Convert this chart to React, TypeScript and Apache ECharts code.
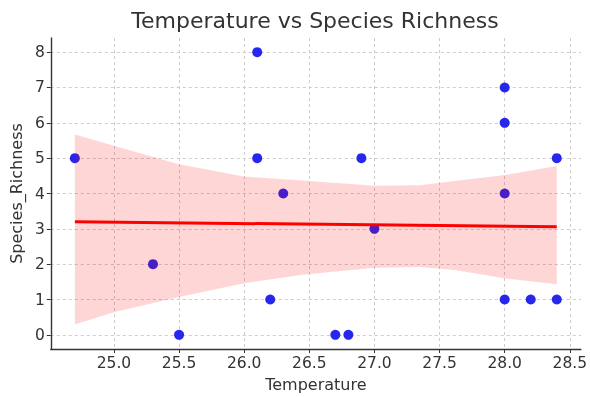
import React, { useEffect, useRef } from 'react';
import * as echarts from 'echarts';

const temperature = [24.7, 25.3, 25.5, 26.1, 26.1, 26.2, 26.3, 26.7, 26.8, 26.9, 27.0, 28.0, 28.0, 28.0, 28.0, 28.2, 28.4, 28.4];
const richness = [5, 2, 0, 8, 5, 1, 4, 0, 0, 5, 3, 7, 6, 4, 1, 1, 5, 1];

const fitX = [24.7, 28.4];
const fitY = [3.2, 3.06];

const bandX = [24.7, 25.0, 25.5, 26.0, 26.45, 27.0, 27.35, 27.6, 28.0, 28.4];
const bandUpper = [5.67, 5.35, 4.83, 4.48, 4.37, 4.22, 4.23, 4.35, 4.52, 4.78];
const bandLower = [0.29, 0.64, 1.07, 1.46, 1.7, 1.9, 1.92, 1.84, 1.6, 1.43];

const xTicks = [25.0, 25.5, 26.0, 26.5, 27.0, 27.5, 28.0, 28.5];
const yTicks = [0, 1, 2, 3, 4, 5, 6, 7, 8];

const FONT = 'DejaVu Sans';
const TEXT = '#333333';

export default function App() {
  const ref = useRef<HTMLDivElement>(null);
  useEffect(() => {
    if (!ref.current) return;
    const chart = echarts.init(ref.current, undefined, { renderer: 'svg' });
    const axisCommon = {
      type: 'value' as const,
      axisLine: { show: true, onZero: false, lineStyle: { color: '#333', width: 1.4 } },
      splitLine: { show: true, lineStyle: { color: '#cccccc', width: 1, type: [3, 3] } },
      nameTextStyle: { fontFamily: FONT, fontSize: 16, color: TEXT },
    };
    chart.setOption({
      animation: false,
      textStyle: { fontFamily: FONT },
      grid: { left: 48, right: 8, top: 38, bottom: 46, containLabel: false },
      graphic: [
        {
          type: 'text',
          x: 315,
          y: 9,
          style: {
            text: 'Temperature vs Species Richness',
            fontSize: 22,
            fontFamily: FONT,
            fill: TEXT,
            align: 'center',
            verticalAlign: 'top',
          },
        },
      ],
      xAxis: {
        ...axisCommon,
        min: 24.515,
        max: 28.585,
        name: 'Temperature',
        nameLocation: 'middle',
        nameGap: 27,
        axisTick: { show: true, length: 4, inside: false, customValues: xTicks, lineStyle: { color: '#333' } },
        axisLabel: {
          customValues: xTicks,
          formatter: (v: number) => v.toFixed(1),
          fontSize: 15.5,
          color: TEXT,
          margin: 6,
          fontFamily: FONT,
        },
      },
      yAxis: {
        ...axisCommon,
        min: -0.4,
        max: 8.4,
        name: 'Species_Richness',
        nameLocation: 'middle',
        nameGap: 24,
        nameRotate: 90,
        axisTick: { show: true, length: 4, inside: false, customValues: yTicks, lineStyle: { color: '#333' } },
        axisLabel: {
          customValues: yTicks,
          formatter: (v: number) => String(v),
          fontSize: 15.5,
          color: TEXT,
          margin: 6,
          fontFamily: FONT,
        },
      },
      series: [
        {
          type: 'scatter',
          data: temperature.map((x, i) => [x, richness[i]]),
          symbolSize: 10,
          itemStyle: { color: '#2626ee', opacity: 1 },
          z: 1,
        },
        {
          type: 'custom',
          silent: true,
          z: 2,
          data: [[bandX[0], bandUpper[0]]],
          renderItem: (_params: any, api: any) => {
            const pts: number[][] = [];
            bandX.forEach((x, i) => pts.push(api.coord([x, bandUpper[i]])));
            for (let i = bandX.length - 1; i >= 0; i--) pts.push(api.coord([bandX[i], bandLower[i]]));
            return { type: 'polygon', shape: { points: pts }, style: { fill: 'rgba(255,0,0,0.16)' } };
          },
        },
        {
          type: 'line',
          data: fitX.map((x, i) => [x, fitY[i]]),
          showSymbol: false,
          lineStyle: { color: '#ff0000', width: 3 },
          z: 3,
        },
      ],
    });
    return () => chart.dispose();
  }, []);
  return <div ref={ref} style={{ position: 'fixed', left: 0, top: 0, width: 590, height: 397 }} />;
}
